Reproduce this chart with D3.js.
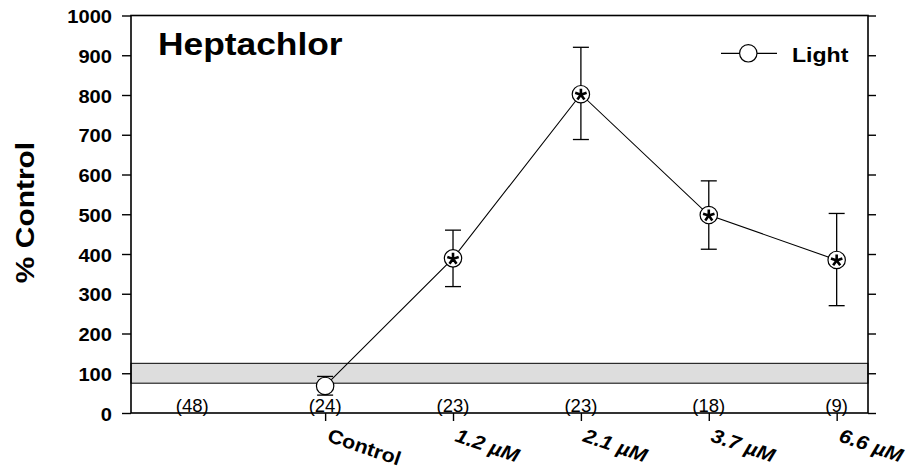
<!DOCTYPE html>
<html>
<head>
<meta charset="utf-8">
<script src="https://cdn.jsdelivr.net/npm/d3@7"></script>
<style>
  html, body { margin: 0; padding: 0; background: #fff; }
  svg { display: block; }
  text { font-family: "Liberation Sans", Arial, sans-serif; fill: #000; }
</style>
</head>
<body>
<svg id="chart" width="910" height="471"></svg>
<script>
// ---- data ----
const categories = ["", "Control", "1.2 µM", "2.1 µM", "3.7 µM", "6.6 µM"];
const counts = ["(48)", "(24)", "(23)", "(23)", "(18)", "(9)"];
const means = [null, 68, 389, 802, 498, 385];
const errHigh = [null, 92, 460, 920, 584, 502];
const errLow = [null, 45, 318, 688, 412, 270];
const significant = [false, false, true, true, true, true];
const yTicks = [0, 100, 200, 300, 400, 500, 600, 700, 800, 900, 1000];
const controlBand = [75, 125];
const seriesName = "Light";
const chartTitle = "Heptachlor";
const yTitle = "% Control";

// ---- layout ----
const L = 131, R = 868, T = 15.5, B = 413;
const svg = d3.select("#chart");
const x = d3.scaleLinear().domain([-0.518, 5.245]).range([L, R]);
const y = d3.scaleLinear().domain([0, 1000]).range([B, T]);

function stretchedText(g, str, px, py, opts) {
  const o = Object.assign({size: 16, weight: "bold", sx: 1.14, rot: 0, anchor: "start", style: "normal"}, opts || {});
  return g.append("text")
    .attr("transform", `translate(${px},${py}) rotate(${o.rot}) scale(${o.sx},1)`)
    .attr("text-anchor", o.anchor)
    .attr("font-size", o.size)
    .attr("font-weight", o.weight)
    .attr("font-style", o.style)
    .text(str);
}

// control band
svg.append("rect")
  .attr("x", L).attr("width", R - L)
  .attr("y", y(controlBand[1])).attr("height", y(controlBand[0]) - y(controlBand[1]))
  .attr("fill", "#dddddd").attr("stroke", "#000").attr("stroke-width", 1);

// axes
const axisG = svg.append("g");
const leftAxis = d3.axisLeft(y).tickValues(yTicks).tickSize(9).tickFormat("");
const rightAxis = d3.axisRight(y).tickValues(yTicks).tickSize(8).tickFormat("");
const bottomAxis = d3.axisBottom(x).tickValues(d3.range(1, categories.length)).tickSize(8).tickFormat("");

function styleAxis(g) {
  g.selectAll(".tick line").attr("stroke", "#000").attr("stroke-width", 1.4);
}
axisG.append("g").attr("transform", `translate(${L},0)`).call(leftAxis).call(styleAxis);
axisG.append("g").attr("transform", `translate(${R},0)`).call(rightAxis).call(styleAxis);
axisG.append("g").attr("transform", `translate(0,${B})`).call(bottomAxis).call(styleAxis);
axisG.selectAll("path.domain").remove();
svg.append("rect").attr("x", L).attr("y", T).attr("width", R - L).attr("height", B - T)
  .attr("fill", "none").attr("stroke", "#000").attr("stroke-width", 1.6);

// y tick labels
const ylab = svg.append("g");
yTicks.forEach(v => stretchedText(ylab, String(v), 112, y(v) + 7.5, {size: 17.5, anchor: "end", sx: 1.15}));

// y axis title
stretchedText(svg, yTitle, 34, (142 + 283) / 2, {size: 26.5, rot: -90, anchor: "middle", sx: 1.13});

// title
stretchedText(svg, chartTitle, 158, 55, {size: 31, sx: 1.14});

// x tick labels (rotated)
const xl = svg.append("g");
categories.forEach((c, i) => {
  if (!c) return;
  stretchedText(xl, c, x(i) + 1, 441, {size: 19.5, rot: 19, sx: 1.1, style: i === 1 ? "normal" : "italic"});
});

// data
const pts = means.map((m, i) => ({i, m, hi: errHigh[i], lo: errLow[i], sig: significant[i]})).filter(d => d.m !== null);

const line = d3.line().x(d => x(d.i)).y(d => y(d.m));
svg.append("path").datum(pts).attr("d", line)
  .attr("fill", "none").attr("stroke", "#000").attr("stroke-width", 1.1);

// error bars
const eb = svg.append("g").attr("stroke", "#000").attr("stroke-width", 1.3);
pts.forEach(d => {
  eb.append("line").attr("x1", x(d.i)).attr("x2", x(d.i)).attr("y1", y(d.hi)).attr("y2", y(d.lo));
  [d.hi, d.lo].forEach(v => eb.append("line")
    .attr("x1", x(d.i) - 8).attr("x2", x(d.i) + 8).attr("y1", y(v)).attr("y2", y(v)));
});

// markers
const mk = svg.append("g");
const R0 = 8.7;
const starPath = (cx, cy, r) => d3.range(5).map(k => {
  const a = -Math.PI / 2 + k * 2 * Math.PI / 5;
  return `M${cx},${cy}L${cx + r * Math.cos(a)},${cy + r * Math.sin(a)}`;
}).join("");
pts.forEach(d => {
  mk.append("circle").attr("cx", x(d.i)).attr("cy", y(d.m)).attr("r", R0)
    .attr("fill", "#fff").attr("stroke", "#000").attr("stroke-width", 1.2);
  if (d.sig) {
    mk.append("path").attr("d", starPath(x(d.i), y(d.m) + 0.5, 6))
      .attr("stroke", "#000").attr("stroke-width", 2.6).attr("stroke-linecap", "butt");
  }
});

// counts
const cg = svg.append("g");
counts.forEach((c, i) => {
  cg.append("text").attr("x", x(i) - (i === 0 ? 5 : 0)).attr("y", 412)
    .attr("text-anchor", "middle").attr("font-size", 18.5).attr("font-weight", "normal").text(c);
});

// legend
const lg = svg.append("g");
lg.append("line").attr("x1", 721).attr("x2", 777).attr("y1", 53.3).attr("y2", 53.3)
  .attr("stroke", "#000").attr("stroke-width", 1.2);
lg.append("circle").attr("cx", 748.3).attr("cy", 53.3).attr("r", R0)
  .attr("fill", "#fff").attr("stroke", "#000").attr("stroke-width", 1.2);
stretchedText(lg, seriesName, 792, 61.5, {size: 21, sx: 1.1});
</script>
</body>
</html>
